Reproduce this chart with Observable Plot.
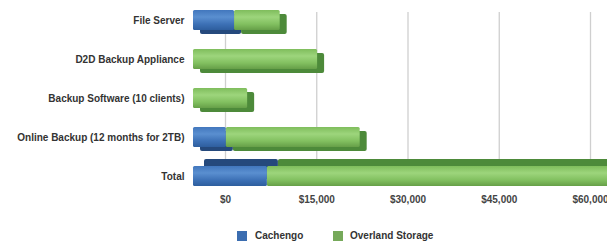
<!DOCTYPE html>
<html><head><meta charset="utf-8">
<script src="https://cdn.jsdelivr.net/npm/d3@7"></script>
<script src="https://cdn.jsdelivr.net/npm/@observablehq/plot@0.6"></script>
<style>
body{margin:0;background:#fff;font-family:"Liberation Sans",Arial,sans-serif;}
#wrap{position:relative;width:607px;height:242px;overflow:hidden;}
#chart svg{display:block;overflow:hidden;}
.lg{position:absolute;top:231px;font-weight:bold;font-size:10px;color:#333;line-height:10px;}
.sw{position:absolute;top:231px;width:10px;height:10px;}
</style></head><body>
<div id="wrap"><div id="chart"></div>
<div class="sw" style="left:237px;background:#3b6db0"></div><div class="lg" id="l0" style="left:255px"></div>
<div class="sw" style="left:333px;background:#76a95a"></div><div class="lg" id="l1" style="left:350px"></div>
</div>
<script>
const categories = ["File Server","D2D Backup Appliance","Backup Software (10 clients)","Online Backup (12 months for 2TB)","Total"];
const series = ["Cachengo","Overland Storage"];
const cachengo = [6750, 0, 0, 5400, 12150];
const overland = [7500, 20400, 8900, 22000, 58800];
const xTicks = [0, 15000, 30000, 45000, 60000];
const tickLabels = ["$0","$15,000","$30,000","$45,000","$60,000"];

const rows = categories.flatMap((c, i) => [
  {category: c, series: series[0], value: cachengo[i]},
  {category: c, series: series[1], value: overland[i]}
]);
const upper = rows.filter(d => d.category !== "Total");
const total = rows.filter(d => d.category === "Total");
const darkFill = {"Cachengo": "#25497c", "Overland Storage": "#4d8a3a"};

document.getElementById("l0").textContent = series[0];
document.getElementById("l1").textContent = series[1];

const chart = Plot.plot({
  width: 607, height: 212,
  marginLeft: 194, marginRight: 0, marginTop: 0, marginBottom: 22,
  style: {fontFamily: "'Liberation Sans', Arial, sans-serif", color: "#333", background: "transparent"},
  x: {domain: [0, 60000], range: [225, 590]},
  y: {domain: categories, range: [0, 195], paddingInner: 0.5, paddingOuter: 0.234},
  color: {domain: series, range: ["url(#gBlue)", "url(#gGreen)"]},
  marks: [
    Plot.gridX(xTicks, {stroke: "#cfcfcf", strokeOpacity: 1, strokeWidth: 1.3, insetTop: 12, insetBottom: 30}),
    Plot.barX(upper, Plot.stackX({x: "value", y: "category", fill: d => darkFill[d.series], dx: -25, dy: 4, rx: 2})),
    Plot.barX(total, Plot.stackX({x: "value", y: "category", fill: d => darkFill[d.series], dx: -21, dy: -7, rx: 2})),
    Plot.barX(rows, Plot.stackX({x: "value", y: "category", fill: "series", dx: -32, rx: 1.5})),
    Plot.axisY({tickSize: 0, tickPadding: 10, fontWeight: "bold", fontSize: 10, label: null}),
    Plot.axisX(xTicks, {tickSize: 0, tickPadding: 5, fontWeight: "bold", fontSize: 10, fill: "#444", label: null,
      tickFormat: d => tickLabels[xTicks.indexOf(d)]})
  ]
});
chart.insertAdjacentHTML("afterbegin", `<defs>
<linearGradient id="gBlue" x1="0" y1="0" x2="0" y2="1">
<stop offset="0" stop-color="#4277bd"/><stop offset="0.35" stop-color="#5a8fd0"/><stop offset="0.7" stop-color="#3d71b6"/><stop offset="1" stop-color="#2e5e9e"/></linearGradient>
<linearGradient id="gGreen" x1="0" y1="0" x2="0" y2="1">
<stop offset="0" stop-color="#7fbd5c"/><stop offset="0.35" stop-color="#9dd57c"/><stop offset="0.7" stop-color="#82c060"/><stop offset="1" stop-color="#669f48"/></linearGradient>
</defs>`);
document.getElementById("chart").appendChild(chart);
</script>
</body></html>
